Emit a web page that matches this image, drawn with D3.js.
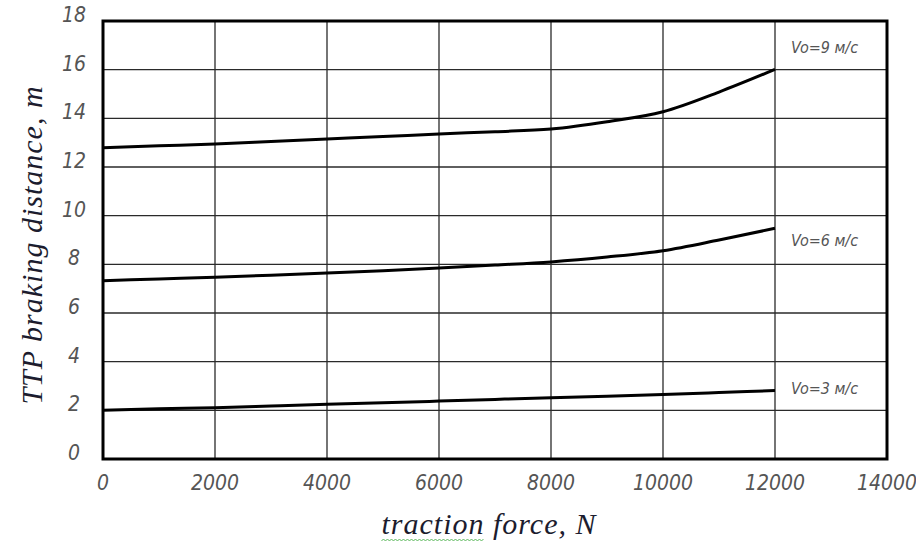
<!DOCTYPE html>
<html>
<head>
<meta charset="utf-8">
<script src="https://cdn.jsdelivr.net/npm/d3@7"></script>
<style>
  body { margin: 0; background: #fff; }
  svg { display: block; }
</style>
</head>
<body>
<div id="chart"></div>
<script>
// traction force, N
const forces = [0, 1000, 2000, 3000, 4000, 5000, 6000, 7000, 8000, 9000, 10000, 11000, 12000];
// braking distance, m
const v9 = [12.79, 12.87, 12.95, 13.05, 13.15, 13.25, 13.36, 13.45, 13.56, 13.86, 14.27, 15.08, 16.01];
const v6 = [7.33, 7.4, 7.47, 7.55, 7.64, 7.74, 7.85, 7.97, 8.1, 8.3, 8.56, 9.0, 9.48];
const v3 = [2.0, 2.06, 2.11, 2.18, 2.25, 2.31, 2.38, 2.45, 2.52, 2.58, 2.65, 2.73, 2.81];
const seriesLabels = ["Vo=9 м/с", "Vo=6 м/с", "Vo=3 м/с"];
const xTicks = [0, 2000, 4000, 6000, 8000, 10000, 12000, 14000];
const yTicks = [0, 2, 4, 6, 8, 10, 12, 14, 16, 18];

const width = 916, height = 544;
const margin = { top: 21, right: 29, bottom: 85, left: 103 };

const svg = d3.select("#chart").append("svg")
  .attr("width", width)
  .attr("height", height);

const x = d3.scaleLinear().domain([0, 14000]).range([margin.left, width - margin.right]);
const y = d3.scaleLinear().domain([0, 18]).range([height - margin.bottom, margin.top]);

const tickFont = "'DejaVu Sans Condensed', 'DejaVu Sans', sans-serif";

// grid
svg.append("g")
  .selectAll("line")
  .data(xTicks.slice(1, -1))
  .join("line")
  .attr("x1", d => x(d)).attr("x2", d => x(d))
  .attr("y1", y(0)).attr("y2", y(18))
  .attr("stroke", "#2a2a2a")
  .attr("stroke-width", 1.3);

svg.append("g")
  .selectAll("line")
  .data(yTicks.slice(1, -1))
  .join("line")
  .attr("x1", x(0)).attr("x2", x(14000))
  .attr("y1", d => y(d)).attr("y2", d => y(d))
  .attr("stroke", "#2a2a2a")
  .attr("stroke-width", 1.3);

// frame
svg.append("rect")
  .attr("x", x(0)).attr("y", y(18))
  .attr("width", x(14000) - x(0))
  .attr("height", y(0) - y(18))
  .attr("fill", "none")
  .attr("stroke", "#000")
  .attr("stroke-width", 3);

// tick labels
svg.append("g")
  .selectAll("text")
  .data(xTicks)
  .join("text")
  .attr("x", d => x(d))
  .attr("y", y(0) + 25)
  .attr("text-anchor", "middle")
  .attr("dominant-baseline", "middle")
  .attr("font-family", tickFont)
  .attr("font-stretch", "condensed")
  .attr("font-style", "italic")
  .attr("font-size", 21)
  .attr("fill", "#555")
  .text(d => d);

svg.append("g")
  .selectAll("text")
  .data(yTicks)
  .join("text")
  .attr("x", x(0) - 29)
  .attr("y", d => y(d) - 5)
  .attr("text-anchor", "middle")
  .attr("dominant-baseline", "middle")
  .attr("font-family", tickFont)
  .attr("font-stretch", "condensed")
  .attr("font-style", "italic")
  .attr("font-size", 21)
  .attr("fill", "#555")
  .text(d => d);

// curves
const line = d3.line()
  .x((d, i) => x(forces[i]))
  .y(d => y(d))
  .curve(d3.curveMonotoneX);

const series = [v9, v6, v3];
svg.append("g")
  .selectAll("path")
  .data(series)
  .join("path")
  .attr("d", line)
  .attr("fill", "none")
  .attr("stroke", "#000")
  .attr("stroke-width", 3);

// series labels, next to the end of each curve
const labelOffsets = [-21, 13, -1];
svg.append("g")
  .selectAll("text")
  .data(series)
  .join("text")
  .attr("x", x(12000) + 16)
  .attr("y", (d, i) => y(d[d.length - 1]) + labelOffsets[i])
  .attr("dominant-baseline", "middle")
  .attr("font-family", tickFont)
  .attr("font-stretch", "condensed")
  .attr("font-style", "italic")
  .attr("font-size", 16)
  .attr("fill", "#555")
  .text((d, i) => seriesLabels[i]);

// axis titles
const titleFont = "'Liberation Serif', 'DejaVu Serif', serif";
const xTitle = svg.append("text")
  .attr("x", 489)
  .attr("y", 534)
  .attr("text-anchor", "middle")
  .attr("font-family", titleFont)
  .attr("font-style", "italic")
  .attr("font-size", 30)
  .attr("letter-spacing", 1)
  .attr("fill", "#1c1c2e")
  .text("traction force, N");

svg.append("text")
  .attr("transform", "translate(42," + 245 + ") rotate(-90)")
  .attr("text-anchor", "middle")
  .attr("font-family", titleFont)
  .attr("font-style", "italic")
  .attr("font-size", 30)
  .attr("letter-spacing", 1)
  .attr("fill", "#1c1c2e")
  .text("TTP braking distance, m");

// green spell-check squiggle under "traction"
const node = xTitle.node();
const start = node.getStartPositionOfChar(0).x;
const w = node.getSubStringLength(0, 8);
const pts = [];
for (let i = 0; i <= Math.floor(w / 2); i++) {
  pts.push([start + i * 2, 540 + (i % 2 ? -1 : 1)]);
}
svg.append("path")
  .attr("d", d3.line()(pts))
  .attr("fill", "none")
  .attr("stroke", "#5cb85c")
  .attr("stroke-width", 1);
</script>
</body>
</html>
